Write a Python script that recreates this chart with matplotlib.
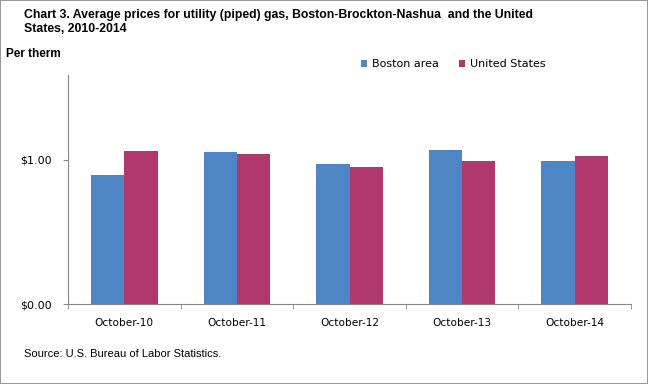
import numpy as np
import matplotlib
matplotlib.use("Agg")
import matplotlib.pyplot as plt
from matplotlib.patches import Rectangle

categories = ["October-10", "October-11", "October-12", "October-13", "October-14"]
boston = [0.898, 1.056, 0.972, 1.069, 0.993]
united_states = [1.063, 1.042, 0.951, 0.993, 1.028]

plt.rcParams["font.family"] = ["Liberation Sans", "DejaVu Sans"]

fig = plt.figure(figsize=(6.48, 3.84), dpi=100)
# axes box in pixels: x 68..631, y 75..304
ax = fig.add_axes([68 / 648, 1 - 304 / 384, 563 / 648, 229 / 384])

x = np.arange(len(categories))
w = 0.295
ax.bar(x - w / 2, boston, w, color="#4d85c5", label="Boston area")
ax.bar(x + w / 2, united_states, w, color="#b0386f", label="United States")

ax.set_xlim(-0.5, len(categories) - 0.5)
ax.set_ylim(0, 1.59)
ax.set_yticks([0, 1])
ax.set_yticklabels(["$0.00", "$1.00"], fontsize=8, family="DejaVu Sans")
ax.set_xticks(x)
ax.set_xticklabels(categories, fontsize=7.6, family="DejaVu Sans")
ax.set_xticks(np.arange(-0.5, len(categories)), minor=True)
ax.tick_params(axis="x", which="major", length=0, pad=10)
ax.tick_params(axis="x", which="minor", length=3.5, color="#888888")
ax.tick_params(axis="y", length=3.5, color="#888888", pad=8)

for s in ["top", "right"]:
    ax.spines[s].set_visible(False)
for s in ["left", "bottom"]:
    ax.spines[s].set_color("#888888")

leg = ax.legend(loc="center left", bbox_to_anchor=(0.52, 1.048), ncol=2, frameon=False,
                prop={"family": "DejaVu Sans", "size": 8}, handlelength=0.6,
                handleheight=0.6, columnspacing=1.8, handletextpad=0.4,
                borderaxespad=0, borderpad=0)

fig.text(24 / 648, 1 - 9 / 384,
         "Chart 3. Average prices for utility (piped) gas, Boston-Brockton-Nashua  and the United\nStates, 2010-2014",
         fontsize=8.8, fontweight="bold", va="top", ha="left", linespacing=1.25)
fig.text(6 / 648, 1 - 54 / 384, "Per therm", fontsize=8.5, fontweight="bold", va="center", ha="left")
fig.text(24 / 648, 1 - 354 / 384, "Source: U.S. Bureau of Labor Statistics.", fontsize=8, va="center", ha="left")

fig.patches.append(Rectangle((0, 0), 1, 1, transform=fig.transFigure, fill=False,
                             edgecolor="#999999", linewidth=1.5))

fig.savefig("out.png", dpi=100)
